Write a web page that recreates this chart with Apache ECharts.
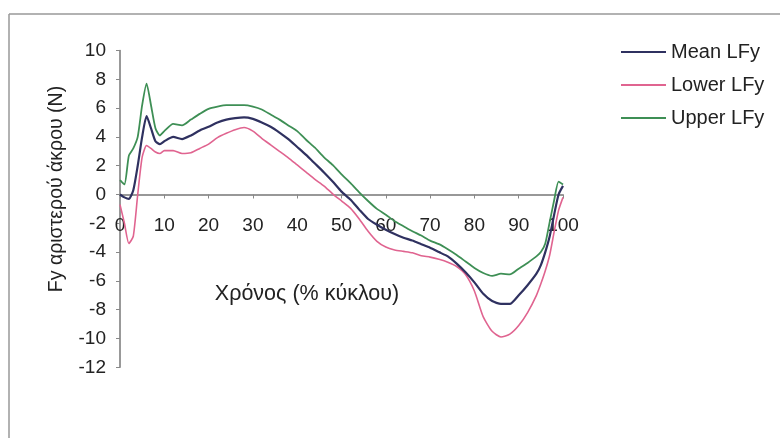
<!DOCTYPE html>
<html>
<head>
<meta charset="utf-8">
<script src="https://cdn.jsdelivr.net/npm/echarts@6/dist/echarts.min.js"></script>
<style>
html,body{margin:0;padding:0;background:#fff;}
#chart{width:780px;height:438px;}
</style>
</head>
<body>
<div id="chart"></div>
<script>
var xValues = [0,1,2,3,4,5,6,7,8,9,10,12,14,16,18,20,22,24,26,28,30,32,34,36,38,40,42,44,46,48,50,52,54,56,58,60,62,64,66,68,70,72,74,76,78,80,82,84,86,88,90,92,94,95,96,97,98,99,100];
var meanLFy = [0.0,-0.2,-0.3,0.3,2.0,4.0,5.45,4.6,3.7,3.5,3.7,4.0,3.85,4.1,4.45,4.7,5.0,5.2,5.3,5.35,5.25,5.0,4.7,4.3,3.85,3.3,2.75,2.15,1.55,0.9,0.2,-0.35,-1.05,-1.7,-2.1,-2.45,-2.75,-3.0,-3.2,-3.45,-3.7,-4.0,-4.3,-4.8,-5.4,-6.1,-6.9,-7.4,-7.6,-7.6,-7.0,-6.3,-5.5,-4.9,-4.0,-2.9,-1.4,0.0,0.6];
var lowerLFy = [-0.7,-2.0,-3.4,-2.9,0.0,2.6,3.4,3.2,2.95,2.85,3.05,3.05,2.85,2.9,3.2,3.5,3.95,4.25,4.5,4.65,4.4,3.9,3.45,3.0,2.55,2.05,1.55,1.05,0.6,0.05,-0.45,-0.95,-1.7,-2.55,-3.25,-3.65,-3.85,-3.95,-4.05,-4.25,-4.35,-4.5,-4.7,-5.0,-5.55,-6.7,-8.5,-9.5,-9.9,-9.7,-9.1,-8.2,-7.0,-6.2,-5.3,-4.2,-2.6,-1.1,-0.2];
var upperLFy = [1.0,0.7,2.7,3.2,4.0,6.2,7.7,6.2,4.6,4.1,4.4,4.9,4.8,5.2,5.6,5.95,6.1,6.2,6.2,6.2,6.1,5.9,5.55,5.2,4.8,4.4,3.8,3.25,2.6,2.05,1.4,0.8,0.15,-0.45,-1.0,-1.4,-1.85,-2.2,-2.55,-2.85,-3.2,-3.45,-3.8,-4.2,-4.65,-5.1,-5.45,-5.65,-5.5,-5.55,-5.15,-4.75,-4.3,-4.0,-3.4,-1.9,-0.4,0.9,0.7];
var xTicks = [0,10,20,30,40,50,60,70,80,90,100];
var yTicks = [-12,-10,-8,-6,-4,-2,0,2,4,6,8,10];
var seriesNames = ['Mean LFy','Lower LFy','Upper LFy'];

function pairs(vals){ return xValues.map(function(x,i){ return [x, vals[i]]; }); }

var FONT = '"Liberation Sans", Arial, sans-serif';
var GRID_TOP = 50.5, GRID_BOTTOM = 70.7, H = 438;
var yMin = yTicks[0], yMax = yTicks[yTicks.length-1];
var plotH = H - GRID_TOP - GRID_BOTTOM;
var zeroOffset = plotH * (0 - yMin) / (yMax - yMin);

var chart = echarts.init(document.getElementById('chart'));
chart.setOption({
  animation: false,
  backgroundColor: '#fff',
  textStyle: {fontFamily: FONT},
  grid: {left: 120, right: 217, top: GRID_TOP, bottom: GRID_BOTTOM, containLabel: false},
  legend: {
    orient: 'vertical', left: 616, top: 37, right: 'auto', bottom: 'auto',
    itemWidth: 45, itemHeight: 2, itemGap: 13,
    icon: 'rect',
    data: seriesNames,
    textStyle: {fontFamily: FONT, fontSize: 20, color: '#222'}
  },
  xAxis: {
    type: 'value', min: xTicks[0], max: xTicks[xTicks.length-1], interval: 10,
    position: 'bottom', offset: -zeroOffset,
    axisLine: {onZero: false, lineStyle: {color: '#777', width: 1.5}},
    axisTick: {show: true, inside: false, length: 4, lineStyle: {color: '#888'}},
    axisLabel: {margin: 22, fontSize: 19, color: '#222', fontFamily: FONT},
    splitLine: {show: false}
  },
  yAxis: {
    type: 'value', min: yMin, max: yMax, interval: 2,
    axisLine: {show: true, onZero: false, lineStyle: {color: '#777', width: 1.5}},
    axisTick: {show: true, inside: false, length: 4, lineStyle: {color: '#888'}},
    axisLabel: {margin: 14, fontSize: 19, color: '#222', fontFamily: FONT},
    splitLine: {show: false}
  },
  graphic: [
    {type: 'line', shape: {x1: 9, y1: 14, x2: 780, y2: 14}, style: {stroke: '#999', lineWidth: 1.5}, silent: true},
    {type: 'line', shape: {x1: 9, y1: 14, x2: 9, y2: 438}, style: {stroke: '#999', lineWidth: 1.5}, silent: true},
    {type: 'text', x: 307, y: 294, style: {text: 'Χρόνος (% κύκλου)', fontFamily: FONT, fontSize: 21.5, fill: '#222', textAlign: 'center', textVerticalAlign: 'middle'}},
    {type: 'text', x: 57, y: 189, rotation: Math.PI/2, style: {text: 'Fy αριστερού άκρου (N)', fontFamily: FONT, fontSize: 19.5, fill: '#222', textAlign: 'center', textVerticalAlign: 'middle'}}
  ],
  series: [
    {name: seriesNames[0], type: 'line', data: pairs(meanLFy), symbol: 'none', showSymbol: false, smooth: 0.2, lineStyle: {color: '#2f3160', width: 2.2}, itemStyle: {color: '#2f3160'}, z: 4},
    {name: seriesNames[1], type: 'line', data: pairs(lowerLFy), symbol: 'none', showSymbol: false, smooth: 0.2, lineStyle: {color: '#e06490', width: 1.6}, itemStyle: {color: '#e06490'}, z: 3},
    {name: seriesNames[2], type: 'line', data: pairs(upperLFy), symbol: 'none', showSymbol: false, smooth: 0.2, lineStyle: {color: '#3e8f55', width: 1.8}, itemStyle: {color: '#3e8f55'}, z: 3}
  ]
});
</script>
</body>
</html>
